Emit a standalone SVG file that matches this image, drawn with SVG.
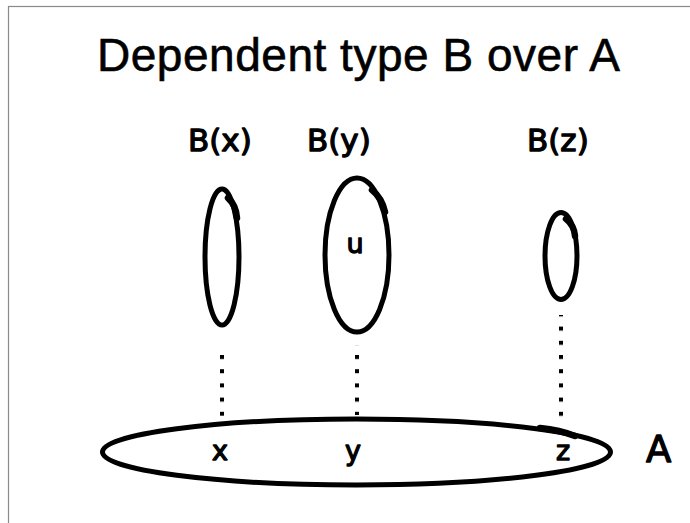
<svg xmlns="http://www.w3.org/2000/svg" width="690" height="523" viewBox="0 0 690 523">
<style>
.title{font-family:"Liberation Sans",Arial,sans-serif;font-size:46px;fill:#000;stroke:#000;stroke-width:0.6}
.hand{font-family:"DejaVu Sans",sans-serif;fill:#000;stroke:#000;stroke-width:1.3;stroke-linejoin:round}
.lbl{font-size:31px}
.pt{font-size:27px;text-anchor:middle}
.blob{fill:none;stroke:#000;stroke-width:5;stroke-linecap:round}
.thick{fill:none;stroke:#000;stroke-width:6.5;stroke-linecap:round}
</style>
<defs>
<pattern id="dots" x="0" y="0" width="4" height="14.2" patternUnits="userSpaceOnUse">
<rect width="4" height="4" fill="#000"/>
</pattern>
</defs>
<rect x="8.5" y="6.5" width="700" height="540" fill="#fff" stroke="#8a8a8a" stroke-width="1.2"/>
<text class="title" x="97" y="71" textLength="523">Dependent type B over A</text>

<g id="connectors">
<rect x="220" y="348" width="4" height="68" fill="url(#dots)"/>
<rect x="355" y="345" width="4" height="70" fill="url(#dots)"/>
<rect x="559" y="315" width="4" height="103" fill="url(#dots)"/>
</g>

<g id="Bx">
<text class="hand lbl" x="188" y="151">B(x)</text>
<ellipse class="blob" cx="222" cy="257" rx="17" ry="68"/>
<path class="thick" d="M228 198 Q236 205 237 218"/>
</g>

<g id="By">
<text class="hand lbl" x="307" y="151">B(y)</text>
<ellipse class="blob" cx="357" cy="255" rx="32" ry="77"/>
<path class="thick" d="M372 190 Q382 198 385 212"/>
<text class="hand pt" x="355" y="253">u</text>
</g>

<g id="Bz">
<text class="hand lbl" x="527" y="151">B(z)</text>
<ellipse class="blob" cx="561" cy="256" rx="16" ry="43.5"/>
<path class="thick" d="M566 219 Q574 225 575 236"/>
</g>

<g id="A">
<ellipse class="blob" cx="356.5" cy="452" rx="254" ry="33"/>
<path class="thick" d="M540 428 Q560 430 575 436"/>
<text class="hand pt" x="220" y="460">x</text>
<text class="hand pt" x="353" y="460">y</text>
<text class="hand pt" x="563" y="460">z</text>
<text class="hand" x="646" y="462" style="font-size:37px">A</text>
</g>
</svg>
